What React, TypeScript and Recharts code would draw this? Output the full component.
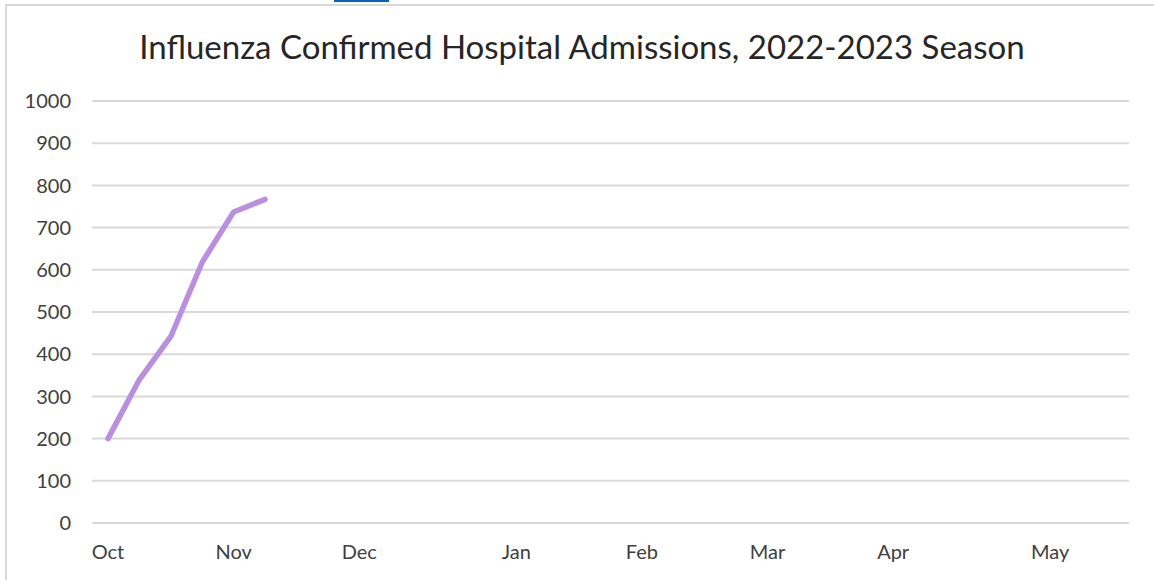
import { CartesianGrid, Line, LineChart, XAxis, YAxis } from "recharts";

// one category per week, month name on the first week of each month
const weekLabels = [
  "Oct", "", "", "",
  "Nov", "", "", "",
  "Dec", "", "", "", "",
  "Jan", "", "", "",
  "Feb", "", "", "",
  "Mar", "", "", "",
  "Apr", "", "", "", "",
  "May", "", "",
];

// weekly confirmed admissions reported so far
const admissions = [200, 340, 442, 618, 737, 767];

const yTicks = [0, 100, 200, 300, 400, 500, 600, 700, 800, 900, 1000];

const data = weekLabels.map((month, i) => ({
  week: i,
  month,
  admissions: i < admissions.length ? admissions[i] : null,
}));

const FONT = "Lato, 'Open Sans', sans-serif";

export default function App() {
  return (
    <div
      style={{
        position: "absolute",
        left: 0,
        top: 0,
        width: 1154,
        height: 580,
        overflow: "hidden",
        background: "#fff",
        fontFamily: FONT,
      }}
    >
      <div
        style={{
          position: "absolute",
          left: 334,
          top: 0,
          width: 55,
          height: 2,
          background: "#0563c1",
        }}
      />
      <div
        style={{
          position: "absolute",
          left: 5,
          top: 4,
          width: 1200,
          height: 640,
          border: "2px solid #d9d9d9",
        }}
      />
      <div
        style={{
          position: "absolute",
          left: 0,
          top: 26,
          width: 1164,
          textAlign: "center",
          fontSize: 33,
          color: "#262626",
        }}
      >
        Influenza Confirmed Hospital Admissions, 2022-2023 Season
      </div>
      <div style={{ position: "absolute", left: 0, top: 0 }}>
        <LineChart
          width={1154}
          height={580}
          data={data}
          margin={{ top: 101, right: 25, bottom: 0, left: 0 }}
        >
          <CartesianGrid
            vertical={false}
            stroke="#d9d9d9"
            strokeWidth={2}
          />
          <XAxis
            dataKey="week"
            type="category"
            interval={0}
            height={57}
            padding={{ left: 16, right: 16 }}
            tickFormatter={(i) => weekLabels[i] ?? ""}
            axisLine={false}
            tickLine={false}
            tickSize={0}
            tickMargin={22}
            tick={{ fill: "#404040", fontSize: 20, fontFamily: FONT }}
          />
          <YAxis
            domain={[0, 1000]}
            ticks={yTicks}
            interval={0}
            width={92}
            axisLine={false}
            tickLine={false}
            tickSize={0}
            tickMargin={21}
            tick={{ fill: "#404040", fontSize: 20, fontFamily: FONT }}
          />
          <Line
            type="linear"
            dataKey="admissions"
            stroke="#b98fde"
            strokeWidth={5.5}
            strokeLinecap="round"
            strokeLinejoin="round"
            dot={false}
            activeDot={false}
            connectNulls={false}
            isAnimationActive={false}
          />
        </LineChart>
      </div>
    </div>
  );
}
